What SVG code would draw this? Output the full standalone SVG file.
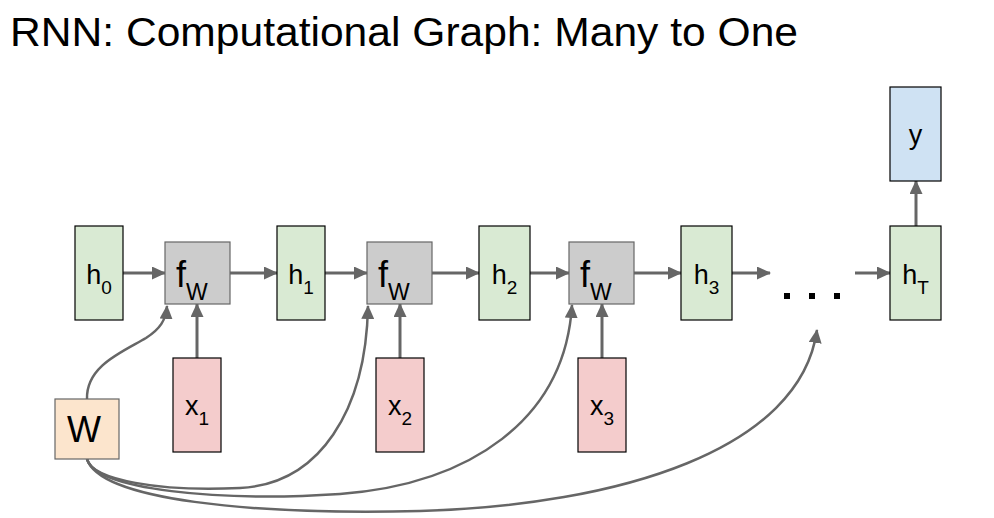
<svg xmlns="http://www.w3.org/2000/svg" width="994" height="518" viewBox="0 0 994 518">
<defs>
<style>
text{font-family:"Liberation Sans",Arial,sans-serif;fill:#000}
.h{fill:#d9ead3;stroke:#000;stroke-width:1.2}
.f{fill:#cccccc;stroke:#666;stroke-width:1.2}
.x{fill:#f4cccc;stroke:#000;stroke-width:1.2}
.y{fill:#cfe2f3;stroke:#000;stroke-width:1.2}
.w{fill:#fce5cd;stroke:#666;stroke-width:1.2}
.lbl{font-size:27px;text-anchor:middle}
.sub{font-size:19px}
.a{stroke:#666;stroke-width:3;fill:none;marker-end:url(#ah)}
.c{stroke:#666;stroke-width:2.5;fill:none;marker-end:url(#ah)}
</style>
<marker id="ah" markerUnits="userSpaceOnUse" markerWidth="14" markerHeight="13" refX="13" refY="6.5" orient="auto">
<path d="M0,0 L14,6.5 L0,13 z" fill="#666"/>
</marker>
</defs>
<rect width="994" height="518" fill="#fff"/>
<text x="10" y="46" font-size="41" textLength="788" lengthAdjust="spacingAndGlyphs">RNN: Computational Graph: Many to One</text>

<g id="connectors">
<line class="a" x1="123" y1="273" x2="165" y2="273"/>
<line class="a" x1="230" y1="273" x2="277" y2="273"/>
<line class="a" x1="325" y1="273" x2="367" y2="273"/>
<line class="a" x1="432" y1="273" x2="479" y2="273"/>
<line class="a" x1="530" y1="273" x2="569" y2="273"/>
<line class="a" x1="634" y1="273" x2="681" y2="273"/>
<line class="a" x1="732" y1="273" x2="770" y2="273"/>
<line class="a" x1="855" y1="273" x2="890" y2="273"/>
<line class="a" x1="916" y1="226" x2="916" y2="181"/>
<line class="a" x1="197" y1="358" x2="197" y2="304"/>
<line class="a" x1="400" y1="358" x2="400" y2="304"/>
<line class="a" x1="602" y1="358" x2="602" y2="304"/>
<path class="c" d="M87,399 C86,366 122,352 146,338 C160,329 166,320 167,306"/>
<path class="c" d="M87,459 C92,480 160,492 240,488 C320,484 366,410 368,306"/>
<path class="c" d="M87,459 C95,490 220,502 340,494 C470,484 565,420 572,305"/>
<path class="c" d="M87,459 C100,500 250,515 420,511 C620,505 800,450 817,330"/>
</g>

<g id="h0"><rect class="h" x="75" y="226" width="48" height="94"/><text class="lbl" x="99" y="284">h<tspan class="sub" dy="10">0</tspan></text></g>
<g id="fw1"><rect class="f" x="165" y="242" width="65" height="62"/><text x="176" y="287" font-size="36">f<tspan font-size="23" dy="13">W</tspan></text></g>
<g id="h1"><rect class="h" x="277" y="226" width="48" height="94"/><text class="lbl" x="301" y="284">h<tspan class="sub" dy="10">1</tspan></text></g>
<g id="fw2"><rect class="f" x="367" y="242" width="65" height="62"/><text x="378" y="287" font-size="36">f<tspan font-size="23" dy="13">W</tspan></text></g>
<g id="h2"><rect class="h" x="479" y="226" width="51" height="94"/><text class="lbl" x="504.5" y="284">h<tspan class="sub" dy="10">2</tspan></text></g>
<g id="fw3"><rect class="f" x="569" y="242" width="65" height="62"/><text x="580" y="287" font-size="36">f<tspan font-size="23" dy="13">W</tspan></text></g>
<g id="h3"><rect class="h" x="681" y="226" width="51" height="94"/><text class="lbl" x="706.5" y="284">h<tspan class="sub" dy="10">3</tspan></text></g>
<g id="dots"><rect x="784" y="293" width="6" height="6" fill="#000"/><rect x="809" y="293" width="6" height="6" fill="#000"/><rect x="834" y="293" width="6" height="6" fill="#000"/></g>
<g id="hT"><rect class="h" x="890" y="226" width="51" height="94"/><text class="lbl" x="915.5" y="284">h<tspan class="sub" dy="10">T</tspan></text></g>
<g id="y"><rect class="y" x="890" y="87" width="51" height="94"/><text class="lbl" x="915.5" y="144">y</text></g>
<g id="x1"><rect class="x" x="173" y="358" width="48" height="94"/><text class="lbl" x="197" y="415">x<tspan class="sub" dy="10">1</tspan></text></g>
<g id="x2"><rect class="x" x="376" y="358" width="48" height="94"/><text class="lbl" x="400" y="415">x<tspan class="sub" dy="10">2</tspan></text></g>
<g id="x3"><rect class="x" x="578" y="358" width="48" height="94"/><text class="lbl" x="602" y="415">x<tspan class="sub" dy="10">3</tspan></text></g>
<g id="W"><rect class="w" x="55" y="399" width="64" height="60"/><text x="84" y="442" font-size="36" text-anchor="middle">W</text></g>
</svg>
